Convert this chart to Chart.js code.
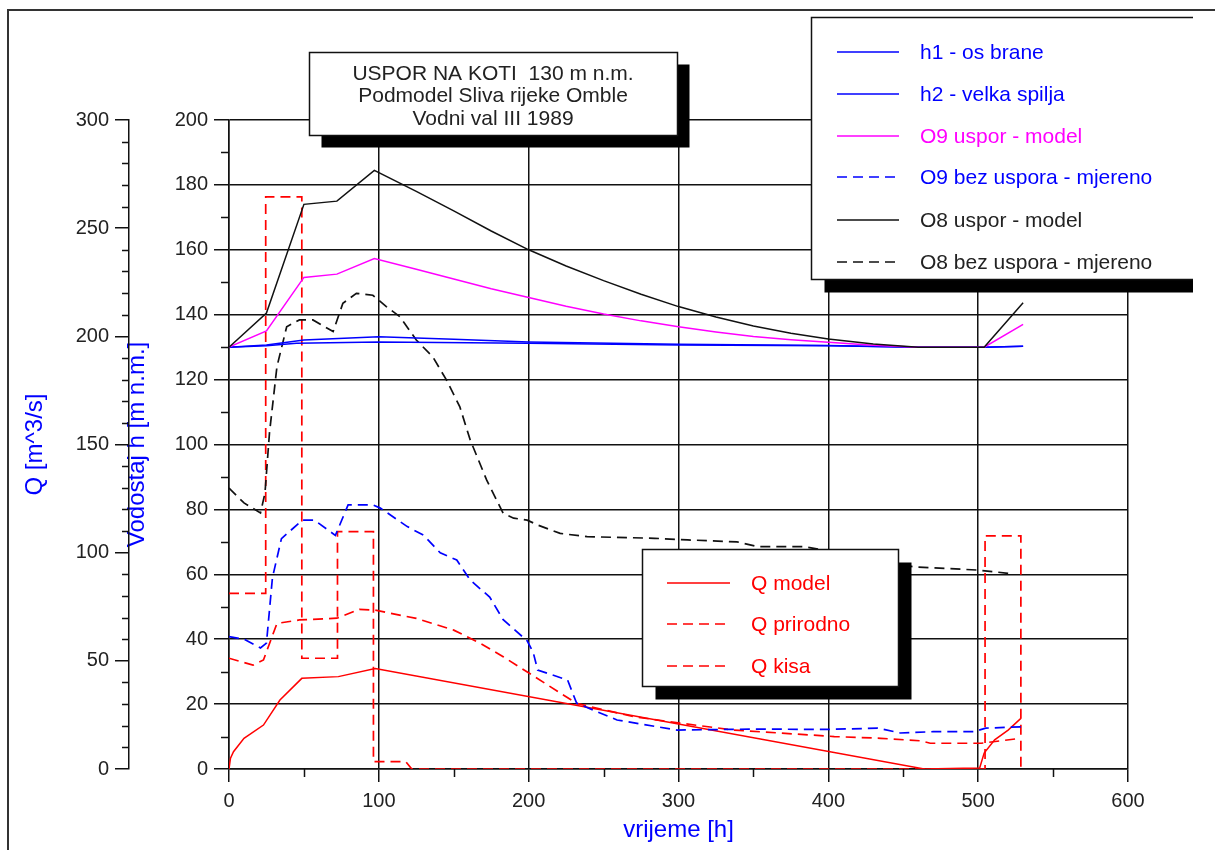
<!DOCTYPE html>
<html>
<head>
<meta charset="utf-8">
<script src="https://cdn.jsdelivr.net/npm/chart.js@4.4.0/dist/chart.umd.min.js"></script>
<style>
  html, body { margin: 0; padding: 0; background: #fff; }
  canvas { display: block; }
</style>
</head>
<body>
<canvas id="chart" width="1215" height="850"></canvas>
<script>
// vodostaji [m n.m.] - lijeva unutarnja os
const h1T = [0, 25, 45, 100, 200, 300, 400, 460, 504, 530];
const h1V = [130, 130.4, 131.2, 131.6, 131.2, 130.7, 130.4, 130, 130, 130.3];
const h2T = [0, 25, 50, 100, 150, 200, 300, 400, 460, 504, 530];
const h2V = [130, 130.7, 132.2, 133.2, 132.4, 131.6, 130.9, 130.5, 130, 130, 130.3];
const usporT = [0, 25, 50, 72, 97, 125, 150, 175, 200, 225, 250, 275, 300, 325, 350, 375, 400, 430, 460, 504, 530];
const o9V = [130, 135, 151.5, 152.5, 157.3, 154, 151, 148, 145.3, 142.6, 140.2, 138.1, 136.3, 134.7, 133.3, 132.3, 131.5, 130.6, 130, 130, 137];
const o8V = [130, 140.5, 174, 175, 184.5, 178, 172, 165.8, 160, 155, 150.5, 146.3, 142.5, 139.3, 136.5, 134.3, 132.5, 131, 130, 130, 143.7];
const o9bT = [0, 10, 21, 25, 29, 35, 49, 57, 71, 79.5, 96, 101, 119, 130, 141, 152, 161, 174, 183, 199, 203, 206, 226, 232, 259, 299, 350, 400, 433, 448, 470, 497, 505, 528.5];
const o9bV = [40.8, 40, 37.3, 38.8, 59, 71, 76.7, 76.7, 72, 81.4, 81.4, 80.4, 74.7, 72, 66.6, 64.4, 58.2, 53, 46, 39.5, 36, 30.5, 27.4, 20.3, 15.1, 12, 12.3, 12.2, 12.6, 11.1, 11.5, 11.5, 12.6, 13];
const o8bT = [0, 10, 21, 24, 27, 32, 38.5, 47, 56, 69.5, 76, 85, 96, 105, 114, 125, 136, 145, 154, 161, 172, 183, 190, 199, 206, 221, 239, 284, 306, 339, 353, 384, 420, 457, 500, 520];
const o8bV = [86.6, 82, 78.9, 85, 103.5, 124, 136.3, 138.4, 138.4, 134.8, 143.5, 146.6, 146, 142.5, 139.4, 132.2, 127, 120, 111.7, 101.4, 89, 78.8, 77.3, 76.7, 75.2, 72.6, 71.6, 71.1, 70.6, 70, 68.5, 68.5, 65.5, 62.3, 61.3, 60.3];

// protoci [m^3/s] - lijeva vanjska os
const qModelT = [0, 1, 3, 10, 23, 34, 48.6, 73, 97.6, 464, 490, 501, 504, 511, 520, 528.5];
const qModelV = [0, 5, 8, 14.2, 20.3, 31.9, 41.9, 42.7, 46.5, 0, 0.3, 0.5, 7.4, 13.5, 18, 23.4];
const qPrirT = [0, 16, 23, 32, 47, 72, 87, 97, 125, 150, 168, 183, 201, 232, 270, 301, 337, 404, 435, 462, 468, 502, 528.5];
const qPrirV = [51.2, 48, 50.4, 67.3, 68.9, 69.7, 73.8, 73.5, 69.6, 64.2, 58, 51.9, 44, 30.3, 24.2, 21.2, 18, 15, 14.2, 13, 11.9, 11.9, 14.2];
const qKisaT = [0, 24.5, 24.5, 48.6, 48.6, 72.4, 72.4, 96.4, 96.4, 118, 122, 504.6, 504.6, 528.5, 528.5];
const qKisaV = [81.2, 81.2, 264.5, 264.5, 51.2, 51.2, 109.7, 109.7, 3.4, 3.4, 0, 0, 107.8, 107.8, 0];

const titleLines = ["USPOR NA KOTI  130 m n.m.", "Podmodel Sliva rijeke Omble", "Vodni val III 1989"];
const legendTop = ["h1 - os brane", "h2 - velka spilja", "O9 uspor - model", "O9 bez uspora - mjereno", "O8 uspor - model", "O8 bez uspora - mjereno"];
const legendQ = ["Q model", "Q prirodno", "Q kisa"];

const FONT = "'Liberation Sans', Arial, sans-serif";
const BLUE = "#0000ff", MAGENTA = "#ff00ff", RED = "#ff0000", BLACK = "#111111";
const DASH = [10, 6];

function pts(t, v) {
  return t.map((x, i) => ({ x: x, y: v[i] }));
}

function serie(label, t, v, color, dashed, axis) {
  return {
    label: label,
    data: pts(t, v),
    borderColor: color,
    borderWidth: dashed ? 1.7 : 1.5,
    borderDash: dashed ? DASH : [],
    pointRadius: 0,
    tension: 0,
    fill: false,
    yAxisID: axis,
  };
}

// redoslijed: prvi se crta zadnji (na vrhu)
const datasets = [
  serie("O8 uspor - model", usporT, o8V, BLACK, false, "y"),
  serie("O9 uspor - model", usporT, o9V, MAGENTA, false, "y"),
  serie("h1 - os brane", h1T, h1V, BLUE, false, "y"),
  serie("h2 - velka spilja", h2T, h2V, BLUE, false, "y"),
  serie("O8 bez uspora - mjereno", o8bT, o8bV, BLACK, true, "y"),
  serie("O9 bez uspora - mjereno", o9bT, o9bV, BLUE, true, "y"),
  serie("Q model", qModelT, qModelV, RED, false, "yQ"),
  serie("Q prirodno", qPrirT, qPrirV, RED, true, "yQ"),
  serie("Q kisa", qKisaT, qKisaV, RED, true, "yQ"),
];

function findSet(label) {
  return datasets.find((d) => d.label === label);
}

function shadowBox(ctx, x, y, w, h, off) {
  ctx.fillStyle = "#000";
  ctx.fillRect(x + off, y + off, w, h);
  ctx.fillStyle = "#fff";
  ctx.fillRect(x, y, w, h);
  ctx.strokeStyle = "#111";
  ctx.lineWidth = 1.5;
  ctx.setLineDash([]);
  ctx.strokeRect(x, y, w, h);
}

function drawLegend(ctx, labels, rowsY, lineX1, lineX2, textX) {
  ctx.font = "21px " + FONT;
  ctx.textAlign = "left";
  ctx.textBaseline = "middle";
  labels.forEach((lab, i) => {
    const ds = findSet(lab);
    const y = rowsY[i];
    ctx.strokeStyle = ds.borderColor;
    ctx.lineWidth = 1.5;
    ctx.setLineDash(ds.borderDash);
    ctx.beginPath();
    ctx.moveTo(lineX1, y);
    ctx.lineTo(lineX2, y);
    ctx.stroke();
    ctx.setLineDash([]);
    ctx.fillStyle = ds.borderColor === BLACK ? "#222" : ds.borderColor;
    ctx.fillText(lab, textX, y + 1);
  });
}

const decorPlugin = {
  id: "decor",
  afterDraw(chart) {
    const ctx = chart.ctx;
    const sx = chart.scales.x, sy = chart.scales.y, sq = chart.scales.yQ;
    ctx.save();

    // sitne crtice na osima
    ctx.strokeStyle = BLACK;
    ctx.lineWidth = 1.5;
    ctx.beginPath();
    for (let v = 10; v < 200; v += 20) {
      const py = Math.round(sy.getPixelForValue(v)) + 0.5;
      ctx.moveTo(sy.right - 8, py);
      ctx.lineTo(sy.right, py);
    }
    for (let v = 10; v < 300; v += 10) {
      if (v % 50 === 0) continue;
      const py = Math.round(sq.getPixelForValue(v)) + 0.5;
      ctx.moveTo(sq.right - 7, py);
      ctx.lineTo(sq.right, py);
    }
    for (let v = 50; v < 600; v += 100) {
      const px = Math.round(sx.getPixelForValue(v)) + 0.5;
      ctx.moveTo(px, sx.top);
      ctx.lineTo(px, sx.top + 8);
    }
    ctx.stroke();

    // okvir slike
    ctx.strokeStyle = "#333";
    ctx.lineWidth = 2;
    ctx.beginPath();
    ctx.moveTo(8, 850);
    ctx.lineTo(8, 10);
    ctx.lineTo(1215, 10);
    ctx.stroke();

    // naslov
    shadowBox(ctx, 309.5, 52.5, 368, 83, 12);
    ctx.fillStyle = "#222";
    ctx.font = "21px " + FONT;
    ctx.textAlign = "center";
    ctx.textBaseline = "middle";
    titleLines.forEach((t, i) => ctx.fillText(t, 493, 74 + i * 22.5));

    // legenda vodostaja (odrezana na desnom rubu)
    ctx.save();
    ctx.beginPath();
    ctx.rect(0, 0, 1193, 850);
    ctx.clip();
    shadowBox(ctx, 811.5, 17.5, 400, 262, 13);
    ctx.restore();
    drawLegend(ctx, legendTop, [52, 94, 136, 177, 220, 262], 837, 899, 920);

    // legenda protoka
    shadowBox(ctx, 642.5, 549.5, 256, 137, 13);
    drawLegend(ctx, legendQ, [583, 624, 666], 667, 730, 751);

    ctx.restore();
  },
};

const tickFont = { family: FONT, size: 20 };
const titleFont = { family: FONT, size: 24 };

new Chart(document.getElementById("chart"), {
  type: "line",
  data: { datasets: datasets },
  options: {
    responsive: false,
    animation: false,
    layout: { padding: { left: 0, right: 87, top: 120, bottom: 0 } },
    plugins: { legend: { display: false }, tooltip: { enabled: false } },
    scales: {
      x: {
        type: "linear",
        position: "bottom",
        min: 0,
        max: 600,
        ticks: { stepSize: 100, font: tickFont, color: "#222", padding: 7, maxRotation: 0, autoSkip: false },
        grid: { color: BLACK, lineWidth: 1.5, tickLength: 13 },
        border: { color: BLACK, width: 1.5 },
        title: { display: true, text: "vrijeme [h]", color: BLUE, font: titleFont, padding: { top: 0, bottom: 5 } },
        afterFit(s) { s.height = 81; },
      },
      y: {
        type: "linear",
        position: "left",
        weight: 0,
        min: 0,
        max: 200,
        ticks: { stepSize: 20, font: tickFont, color: "#222", padding: 6, autoSkip: false },
        grid: { color: BLACK, lineWidth: 1.5, tickLength: 15 },
        border: { color: BLACK, width: 1.5 },
        title: { display: true, text: "Vodostaj h [m n.m.]", color: BLUE, font: titleFont, padding: { top: -6.4, bottom: 0 } },
        afterFit(s) { s.width = 100; },
      },
      yQ: {
        type: "linear",
        position: "left",
        weight: 1,
        min: 0,
        max: 300,
        ticks: { stepSize: 50, font: tickFont, color: "#222", padding: 6, autoSkip: false },
        grid: { color: BLACK, lineWidth: 1.5, tickLength: 14, drawOnChartArea: false },
        border: { color: BLACK, width: 1.5 },
        title: { display: true, text: "Q [m^3/s]", color: BLUE, font: titleFont, padding: { top: 20.6, bottom: 0 } },
        afterFit(s) { s.width = 129; },
      },
    },
  },
  plugins: [decorPlugin],
});
</script>
</body>
</html>
